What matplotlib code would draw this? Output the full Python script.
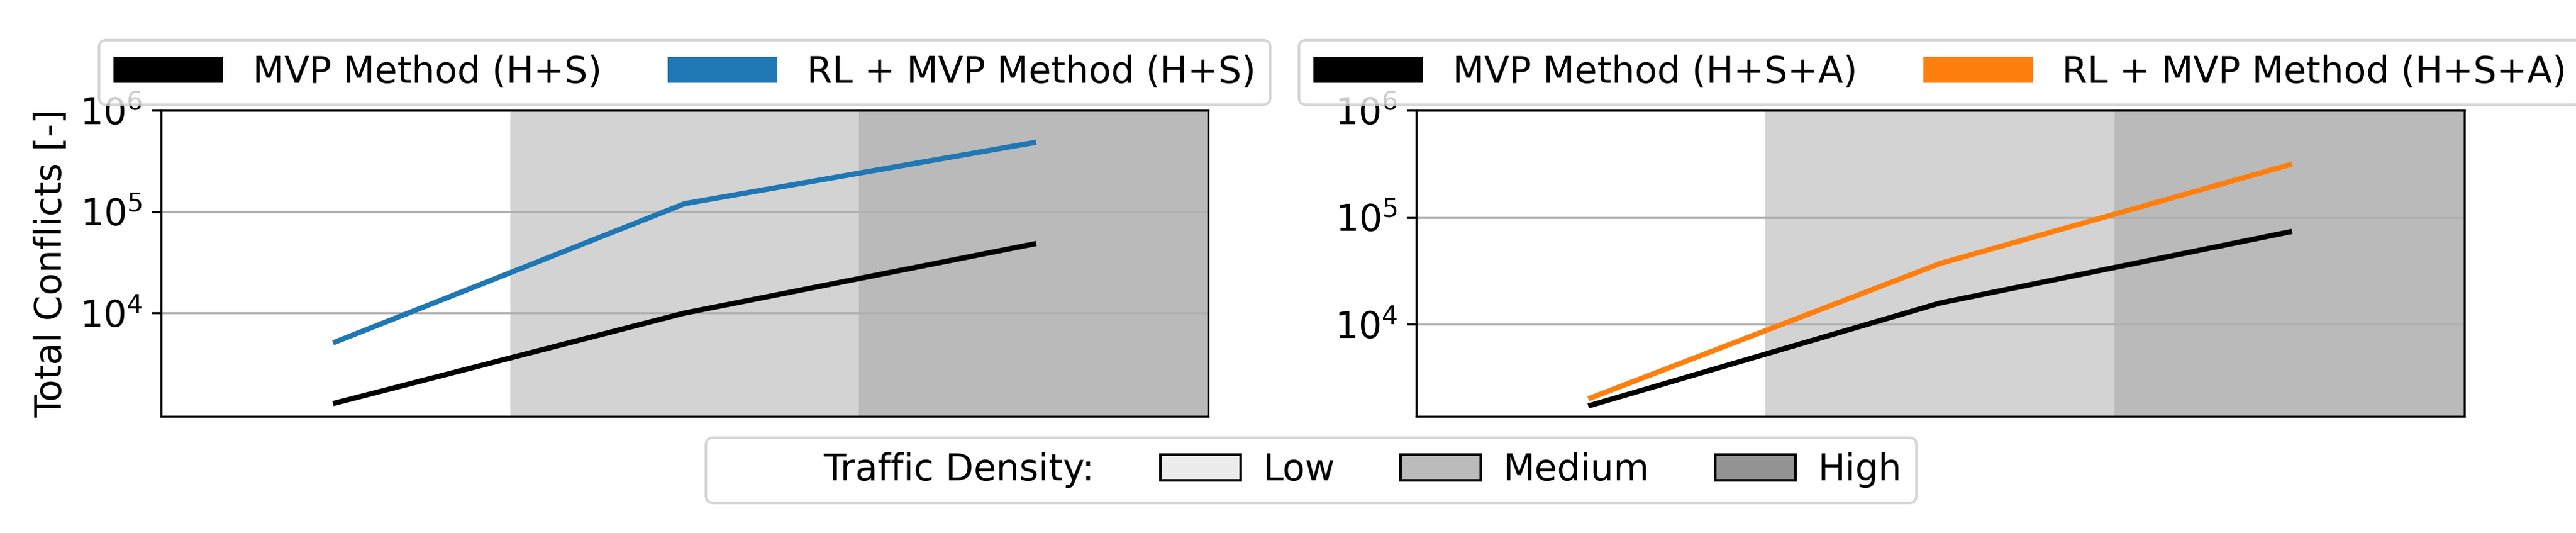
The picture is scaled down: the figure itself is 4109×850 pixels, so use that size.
import matplotlib
matplotlib.use("Agg")
import matplotlib.pyplot as plt
from matplotlib.patches import Patch
from matplotlib.lines import Line2D

densities = ["Low", "Medium", "High"]
mvp_hs = [1300, 10000, 48000]
rl_hs = [5200, 120000, 480000]
mvp_hsa = [1750, 15800, 73000]
rl_hsa = [2050, 37000, 310000]

FS = 14
fig = plt.figure(figsize=(4109/300, 850/300), dpi=300)
ax1 = fig.add_axes([0.0625, 0.219, 0.4065, 0.574])
ax2 = fig.add_axes([0.5497, 0.219, 0.4069, 0.574])
span_cols = ["white", "#d3d3d3", "#bababa"]
x = list(range(len(densities)))
for ax, a, b, col, la, lb, ylo in [
    (ax1, mvp_hs, rl_hs, "#1f77b4", "MVP Method (H+S)", "RL + MVP Method (H+S)", 960),
    (ax2, mvp_hsa, rl_hsa, "#ff7f0e", "MVP Method (H+S+A)", "RL + MVP Method (H+S+A)", 1380)]:
    for i, c in enumerate(span_cols):
        ax.axvspan(i - 0.5, i + 0.5, color=c, zorder=0, lw=0)
    ax.plot(x, a, color="black", lw=2)
    ax.plot(x, b, color=col, lw=2)
    ax.set_yscale("log")
    ax.set_ylim(ylo, 1e6)
    ax.set_xlim(-0.5, 2.5)
    ax.set_yticks([1e4, 1e5, 1e6])
    ax.yaxis.set_minor_locator(matplotlib.ticker.NullLocator())
    ax.set_xticks([])
    ax.grid(axis="y", color="#b0b0b0", lw=0.8)
    ax.set_axisbelow(True)
    ax.tick_params(labelsize=FS)
    handles = [Patch(facecolor="black"), Patch(facecolor=col)]
    ax.legend(handles, [la, lb], ncol=2, loc="lower center", bbox_to_anchor=(0.5, 1.0),
              fontsize=FS, handlelength=3, columnspacing=1.8, borderaxespad=0.15)
ax1.set_ylabel("Total Conflicts [-]", fontsize=FS)

dh = [Line2D([], [], linestyle="none")] + [Patch(facecolor=c, edgecolor="black") for c in ["#ececec", "#bbbbbb", "#939393"]]
fig.legend(dh, ["Traffic Density:", "Low", "Medium", "High"], ncol=4, loc="center",
           bbox_to_anchor=(0.509, 0.118), fontsize=FS, handlelength=2.2, columnspacing=1.8,
           handletextpad=0.6)
fig.savefig("out.png", dpi=300)
